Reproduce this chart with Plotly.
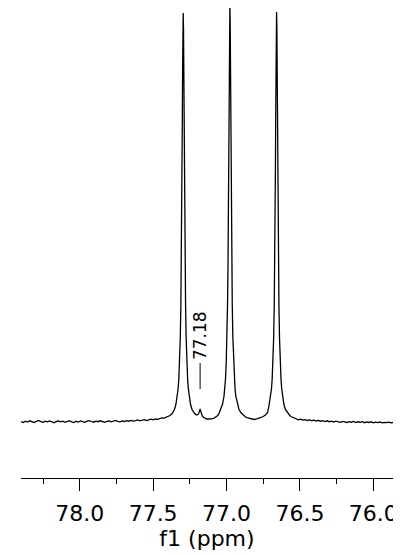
import plotly.graph_objects as go

# Spectrum trace: chemical shift (ppm) and intensity (a.u.)
ppm = [
    78.400, 78.385, 78.370, 78.355, 78.340, 78.325, 78.310, 78.295, 78.280, 78.265,
    78.250, 78.235, 78.220, 78.205, 78.190, 78.175, 78.160, 78.145, 78.130, 78.115,
    78.100, 78.085, 78.070, 78.055, 78.040, 78.025, 78.010, 77.995, 77.980, 77.965,
    77.950, 77.935, 77.920, 77.905, 77.890, 77.875, 77.860, 77.845, 77.830, 77.815,
    77.800, 77.785, 77.770, 77.755, 77.740, 77.725, 77.710, 77.695, 77.680, 77.665,
    77.650, 77.635, 77.620, 77.605, 77.590, 77.575, 77.560, 77.545, 77.530, 77.515,
    77.500, 77.485, 77.470, 77.455, 77.440, 77.425, 77.410, 77.395,
    77.385, 77.370, 77.355, 77.345, 77.335, 77.330, 77.325, 77.320, 77.315, 77.311,
    77.308, 77.305, 77.303, 77.301, 77.299, 77.297, 77.295,
    77.293, 77.291, 77.289, 77.287, 77.285, 77.282, 77.279, 77.275, 77.270, 77.265,
    77.260, 77.255, 77.245, 77.235, 77.220, 77.205,
    77.195, 77.188, 77.184, 77.180, 77.176, 77.172, 77.165, 77.155, 77.145, 77.130,
    77.115, 77.100, 77.085, 77.070, 77.060, 77.050, 77.040,
    77.027, 77.017, 77.012, 77.007, 77.002, 76.997, 76.993, 76.990, 76.987, 76.985,
    76.983, 76.981, 76.979, 76.977,
    76.975, 76.973, 76.971, 76.969, 76.967, 76.964, 76.961, 76.957, 76.952, 76.947,
    76.942, 76.937, 76.927, 76.915, 76.900, 76.885, 76.870, 76.855,
    76.840, 76.825, 76.810, 76.795, 76.780, 76.765, 76.750, 76.735, 76.720,
    76.709, 76.699, 76.694, 76.689, 76.684, 76.679, 76.675, 76.672, 76.669, 76.667,
    76.665, 76.663, 76.661, 76.659,
    76.657, 76.655, 76.653, 76.651, 76.649, 76.646, 76.643, 76.639, 76.634, 76.629,
    76.624, 76.619, 76.609, 76.599, 76.584, 76.569, 76.554, 76.539,
    76.525, 76.510, 76.495, 76.480, 76.465, 76.450, 76.435, 76.420, 76.405, 76.390,
    76.375, 76.360, 76.345, 76.330, 76.315, 76.300, 76.285, 76.270, 76.255, 76.240,
    76.225, 76.210, 76.195, 76.180, 76.165, 76.150, 76.135, 76.120, 76.105, 76.090,
    76.075, 76.060, 76.045, 76.030, 76.015, 76.000, 75.985, 75.970, 75.955, 75.940,
    75.925, 75.910, 75.895, 75.880, 75.866,
]
intensity = [
    0.5, -0.5, 0.8, 0.0, 1.2, 0.3, -0.6, 0.7, 1.5, 0.4,
    -0.3, 0.9, 0.2, 1.1, 0.0, -0.8, 0.6, 1.0, 0.1, 0.8,
    -0.4, 0.5, 1.3, 0.2, -0.5, 0.7, 0.0, 1.0, 0.4, -0.3,
    0.8, 1.4, 0.5, -0.2, 0.9, 0.3, 1.2, 0.4, -0.4, 0.6,
    1.0, 0.2, 0.9, 1.5, 0.6, 0.1, 1.1, 0.5, 1.4, 0.8,
    1.6, 0.9, 1.3, 2.0, 1.2, 1.7, 2.3, 1.5, 2.1, 2.8,
    2.2, 3.0, 2.6, 3.4, 4.0, 3.8, 4.8, 6.0,
    6.5, 8.5, 12.5, 17.5, 26, 33, 43, 58, 84, 117,
    154, 207, 251, 303, 353, 393, 409,
    393, 353, 303, 251, 207, 154, 117, 84, 58, 43,
    33, 26, 17.5, 12.5, 9, 7,
    7.5, 9, 11, 13, 11, 8.5, 6, 4.5, 3.5, 3,
    2.8, 3.2, 3.8, 5, 6.5, 9, 13,
    18, 26, 33, 43, 59, 85, 118, 155, 209, 253,
    305, 358, 398, 418,
    398, 358, 305, 253, 209, 155, 118, 85, 59, 43,
    33, 26, 18, 12.5, 9, 6.5, 5, 4,
    3.5, 3, 2.5, 3.2, 3.8, 4.5, 5.5, 7, 9.5,
    18, 26, 33, 43, 58, 84, 117, 154, 207, 251,
    303, 354, 394, 410,
    394, 354, 303, 251, 207, 154, 117, 84, 58, 43,
    33, 26, 17.5, 12.5, 9, 6.5, 5, 4,
    3.0, 2.2, 2.8, 1.9, 2.4, 1.5, 2.1, 1.3, 1.8, 1.0,
    1.6, 0.8, 1.4, 0.5, 1.2, 0.3, 0.9, 0.0, 0.8, 0.2,
    -0.3, 0.6, 0.0, -0.5, 0.4, -0.2, 0.5, -0.6, 0.2, -0.4,
    0.3, -0.7, 0.1, -0.5, 0.2, -0.8, -0.1, -0.6, 0.0, -0.9,
    -0.3, -0.7, -0.2, -0.8, -0.5,
]

# Peak labels
peak_labels = [77.18]

# Axis
x_range = [78.40, 75.866]
tick_values = [78.0, 77.5, 77.0, 76.5, 76.0]
tick_text = ["78.0", "77.5", "77.0", "76.5", "76.0"]
minor_tick_values = [78.25, 77.75, 77.25, 76.75, 76.25]
x_title = "f1 (ppm)"

FONT = "DejaVu Sans"

fig = go.Figure()
fig.add_trace(go.Scatter(
    x=ppm, y=intensity, mode="lines",
    line=dict(color="black", width=1.3),
    hoverinfo="skip", showlegend=False,
))

for p in peak_labels:
    fig.add_shape(type="line", xref="x", yref="y",
                  x0=p, x1=p, y0=33, y1=59,
                  line=dict(color="black", width=1))
    fig.add_annotation(x=p, y=86, xref="x", yref="y",
                       text=f"{p:.2f}", textangle=-90, showarrow=False,
                       font=dict(family=FONT, size=17, color="black"),
                       xanchor="center", yanchor="middle")

fig.update_layout(
    width=393, height=547,
    margin=dict(l=13, r=8, t=0, b=77),
    paper_bgcolor="white", plot_bgcolor="white",
    font=dict(family=FONT, color="black"),
    xaxis=dict(
        range=x_range, showgrid=False, zeroline=False,
        showline=True, linecolor="black", linewidth=1,
        ticks="outside", ticklen=12, tickwidth=1, tickcolor="black",
        tickvals=tick_values, ticktext=tick_text,
        ticklabelstandoff=4,
        tickfont=dict(family=FONT, size=22, color="black"),
        minor=dict(ticks="outside", ticklen=5, tickwidth=1, tickcolor="black",
                   tickvals=minor_tick_values),
        title=dict(text=x_title, font=dict(family=FONT, size=22, color="black"),
                   standoff=0),
    ),
    yaxis=dict(range=[-56, 414], visible=False, fixedrange=True),
)

fig.write_html("out.html")
